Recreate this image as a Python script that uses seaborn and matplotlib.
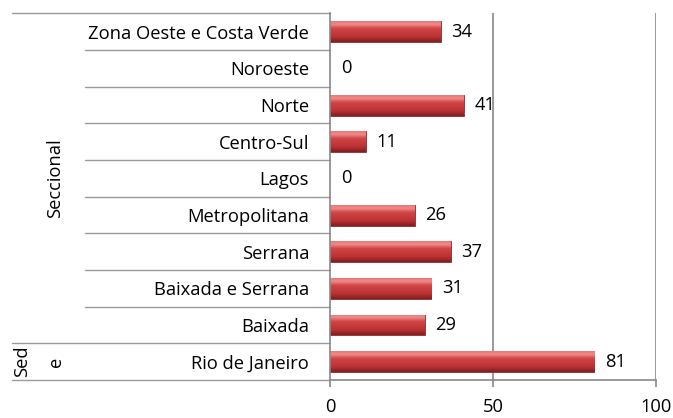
import numpy as np
import pandas as pd
import seaborn as sns
import matplotlib.pyplot as plt
from matplotlib.transforms import blended_transform_factory
from matplotlib.colors import LinearSegmentedColormap

# Dados
regioes = ['Zona Oeste e Costa Verde', 'Noroeste', 'Norte', 'Centro-Sul', 'Lagos',
           'Metropolitana', 'Serrana', 'Baixada e Serrana', 'Baixada', 'Rio de Janeiro']
valores = [34, 0, 41, 11, 0, 26, 37, 31, 29, 81]
grupos = ['Seccional'] * 9 + ['Sede']

df = pd.DataFrame({'regiao': regioes, 'valor': valores, 'grupo': grupos})

sns.set_style('white')
plt.rcParams['font.family'] = ['Open Sans', 'DejaVu Sans']
plt.rcParams['text.color'] = 'black'
plt.rcParams['xtick.color'] = 'black'
plt.rcParams['ytick.color'] = 'black'
fs = 13.2

W, H = 673, 418
fig = plt.figure(figsize=(W / 100, H / 100), dpi=100)
x0, x1 = 330, 656
y0, y1 = 13.5, 380
ax = fig.add_axes([x0 / W, 1 - y1 / H, (x1 - x0) / W, (y1 - y0) / H])

sns.barplot(data=df, x='valor', y='regiao', orient='h', color='#C0393B',
            width=0.57, ax=ax, order=regioes)

# gradiente nas barras
grad = np.linspace(0, 1, 64).reshape(-1, 1)
cmap = LinearSegmentedColormap.from_list('barra', [
    (0.0, '#E87878'), (0.15, '#F08A8A'), (0.35, '#D04646'),
    (0.75, '#BC3234'), (1.0, '#7E1E1F')])
for p in ax.patches:
    bx, by = p.get_x(), p.get_y()
    bw, bh = p.get_width(), p.get_height()
    if bw <= 0:
        continue
    im = ax.imshow(grad, cmap=cmap, aspect='auto',
                   extent=[bx, bx + bw, by + bh, by], zorder=p.get_zorder() + 0.1)
    im.set_clip_path(p)
    p.set_edgecolor('#8E2A2B')
    p.set_linewidth(0.6)

ax.set_xlim(0, 100)
ax.set_ylim(9.5, -0.5)
ax.set_xticks([0, 50, 100])
ax.set_xlabel('')
ax.set_ylabel('')

cinza = '#888888'
for xv in [50, 100]:
    ax.axvline(xv, color=cinza, lw=1.2, zorder=0)

for s in ['top', 'right']:
    ax.spines[s].set_visible(False)
for s in ['left', 'bottom']:
    ax.spines[s].set_color(cinza)
    ax.spines[s].set_linewidth(1.2)

ax.tick_params(axis='x', direction='out', length=5, width=1.2, color=cinza,
               labelsize=fs, labelcolor='black', pad=8, bottom=True)
ax.tick_params(axis='y', length=0, pad=15, labelsize=fs, labelcolor='black')

# rotulos de valor
for i, v in enumerate(valores):
    ax.text(v + 3.3, i, str(v), va='center', ha='left', fontsize=fs)

# linhas das categorias
tr = blended_transform_factory(ax.transAxes, ax.transData)
xc = (85 - x0) / (x1 - x0)
xg = (12 - x0) / (x1 - x0)
for k in range(-1, 10):
    yb = k + 0.5
    xs = xg if k in (-1, 8, 9) else xc
    ax.plot([xs, 0], [yb, yb], color='#9A9A9A', lw=1.0, transform=tr, clip_on=False)

# rotulos de grupo
ax.text((55 - x0) / (x1 - x0), 4, 'Seccional', rotation=90, ha='center', va='center',
        fontsize=fs, transform=tr)
ax.text((22 - x0) / (x1 - x0), 9, 'Sed', rotation=90, ha='center', va='center',
        fontsize=fs, transform=tr)
ax.text((56 - x0) / (x1 - x0), 9, 'e', rotation=90, ha='center', va='center',
        fontsize=fs, transform=tr)

fig.savefig('out.png', dpi=100)
